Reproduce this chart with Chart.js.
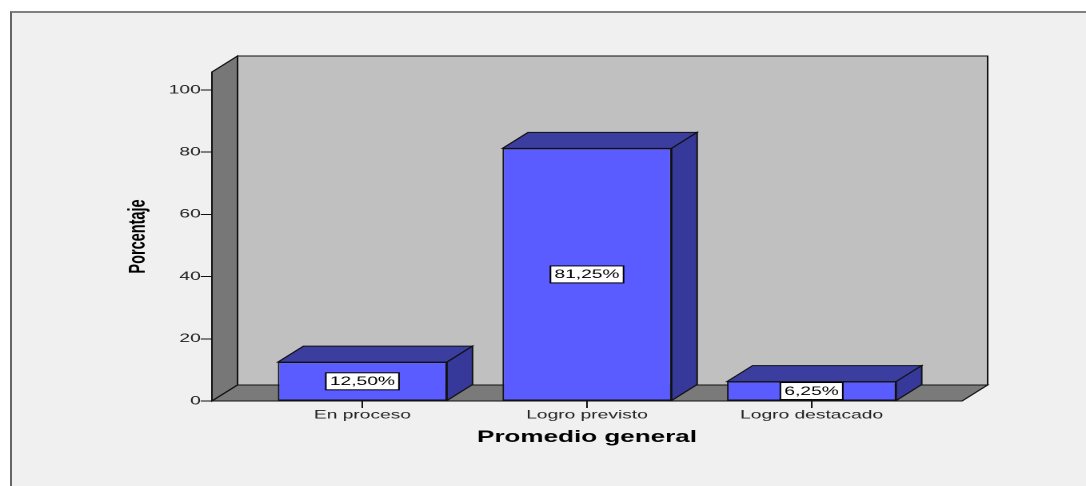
<!DOCTYPE html>
<html>
<head>
<meta charset="utf-8">
<script src="https://cdn.jsdelivr.net/npm/chart.js@4.4.1/dist/chart.umd.min.js"></script>
<style>
  html, body { margin: 0; padding: 0; background: #fff; width: 1086px; height: 486px; overflow: hidden; }
  #frame { position: absolute; left: 10px; top: 11px; right: 0; bottom: 0; background: #f0f0f0;
           border-top: 2px solid #808080; border-left: 2px solid #666; }
  /* the reference is stretched horizontally, so draw narrow and widen it */
  #wrap { position: absolute; left: 0; top: 0; width: 679px; height: 486px;
          transform: scaleX(1.59941); transform-origin: 0 0; }
</style>
</head>
<body>
<div id="frame"></div>
<div id="wrap"><canvas id="c" width="679" height="486"></canvas></div>
<script>
const categories  = ['En proceso', 'Logro previsto', 'Logro destacado'];
const percentages = [12.5, 81.25, 6.25];
const yTicks      = [0, 20, 40, 60, 80, 100];

const DEPTH = 16;
const FRONT = '#5a5cff', TOP = '#3b3e9f', SIDE = '#36399a';
const FONT = '"Liberation Sans", Arial, sans-serif';

Chart.defaults.font.family = FONT;

function poly(ctx, pts, fill) {
  ctx.beginPath();
  ctx.moveTo(pts[0][0], pts[0][1]);
  for (let i = 1; i < pts.length; i++) ctx.lineTo(pts[i][0], pts[i][1]);
  ctx.closePath();
  ctx.fillStyle = fill; ctx.fill();
  ctx.stroke();
}

// walls, floor, bar sides and value boxes
const box3d = {
  id: 'box3d',
  beforeDraw(chart) {
    const { ctx, chartArea: a } = chart, d = DEPTH;
    ctx.save();
    ctx.lineWidth = 1; ctx.strokeStyle = '#111'; ctx.lineJoin = 'miter';
    poly(ctx, [[a.left + d, a.top - d], [a.right + d, a.top - d], [a.right + d, a.bottom - d], [a.left + d, a.bottom - d]], '#c0c0c0');
    poly(ctx, [[a.left, a.top], [a.left + d, a.top - d], [a.left + d, a.bottom - d], [a.left, a.bottom]], '#777777');
    poly(ctx, [[a.left, a.bottom], [a.left + d, a.bottom - d], [a.right + d, a.bottom - d], [a.right, a.bottom]], '#7a7a7a');
    ctx.restore();
  },
  afterDatasetsDraw(chart) {
    const ctx = chart.ctx, d = DEPTH;
    const meta = chart.getDatasetMeta(0);
    ctx.save();
    ctx.lineWidth = 1; ctx.strokeStyle = '#111';
    meta.data.forEach((bar, i) => {
      const { x, y, base, width } = bar.getProps(['x', 'y', 'base', 'width'], true);
      const l = x - width / 2, r = x + width / 2;
      poly(ctx, [[l, y], [l + d, y - d], [r + d, y - d], [r, y]], TOP);
      poly(ctx, [[r, y], [r + d, y - d], [r + d, base - d], [r, base]], SIDE);

      const txt = percentages[i].toFixed(2).replace('.', ',') + '%';
      ctx.font = '12px ' + FONT;
      const tw = ctx.measureText(txt).width + 5, th = 17;
      const cy = (y + base) / 2;
      ctx.fillStyle = '#fff';
      ctx.fillRect(x - tw / 2, cy - th / 2, tw, th);
      ctx.strokeStyle = '#000';
      ctx.strokeRect(x - tw / 2, cy - th / 2, tw, th);
      ctx.fillStyle = '#000';
      ctx.textAlign = 'center'; ctx.textBaseline = 'middle';
      ctx.fillText(txt, x, cy + 0.5);
      ctx.strokeStyle = '#111';
    });
    ctx.restore();
  }
};

new Chart(document.getElementById('c'), {
  type: 'bar',
  data: {
    datasets: [{
      data: percentages.map((v, i) => ({ x: i, y: v })),
      backgroundColor: FRONT,
      borderColor: '#111',
      borderWidth: 1,
      borderSkipped: false,
      categoryPercentage: 1,
      barPercentage: 0.753
    }]
  },
  options: {
    responsive: false,
    animation: false,
    devicePixelRatio: 2,
    layout: { padding: { left: 77.6, right: 77.5, top: 72, bottom: 38.7 } },
    plugins: { legend: { display: false }, tooltip: { enabled: false } },
    scales: {
      x: {
        type: 'linear', min: -0.67, max: 2.67, offset: false,
        afterBuildTicks: s => { s.ticks = categories.map((c, i) => ({ value: i })); },
        afterFit: s => { s.height = 46.3; },
        ticks: { callback: v => categories[v] ?? '', font: { size: 12 }, color: '#222',
                 padding: 0, maxRotation: 0, autoSkip: false },
        grid: { offset: false, drawOnChartArea: false, tickLength: 7, color: '#111' },
        border: { display: false },
        title: { display: true, text: 'Promedio general', color: '#000', padding: 0,
                 font: { size: 16.3, weight: 'bold' } }
      },
      y: {
        min: 0, max: 105.8,
        afterBuildTicks: s => { s.ticks = yTicks.map(v => ({ value: v })); },
        afterFit: s => { s.width = 54.9; },
        ticks: { font: { size: 12 }, color: '#222', padding: 0 },
        grid: { drawOnChartArea: false, tickLength: 7, color: '#111' },
        border: { display: false },
        title: { display: true, text: 'Porcentaje', color: '#000', padding: 0,
                 font: { size: 14.5, weight: 'bold' } }
      }
    }
  },
  plugins: [box3d]
});
</script>
</body>
</html>
